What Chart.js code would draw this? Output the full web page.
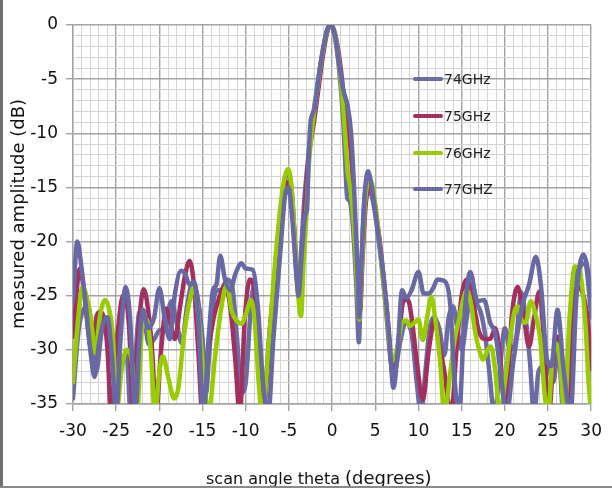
<!DOCTYPE html>
<html>
<head>
<meta charset="utf-8">
<script src="https://cdn.jsdelivr.net/npm/chart.js@4.4.1/dist/chart.umd.min.js"></script>
<style>
  html, body { margin: 0; padding: 0; background: #fff; }
  #wrap { position: relative; width: 612px; height: 488px; overflow: hidden; }
  #chart { position: absolute; left: 0; top: 0; }
  #edgeLeft { position: absolute; left: 0; top: 0; width: 3px; height: 488px; background: #707070; }
  #edgeBottom { position: absolute; left: 0; top: 486px; width: 612px; height: 2px; background: #8a8a8a; }
</style>
</head>
<body>
<div id="wrap">
  <canvas id="chart" width="612" height="488"></canvas>
  <div id="edgeLeft"></div>
  <div id="edgeBottom"></div>
</div>
<script>
// 系列名
const seriesNames = ['74GHz', '75GHz', '76GHz', '77GHZ'];

// [角度(deg), 振幅(dB)] - 画像から読み取り
const data74 = [
  [-30,-34.5],[-29.4,-28.5],[-28.8,-26.3],[-28.2,-26],[-27.8,-28.5],[-27.3,-32],[-26.8,-29],[-26.4,-27],
  [-25.9,-28],[-25.3,-30.6],[-24.8,-33],[-24.2,-31],[-23.8,-30.5],[-23.3,-36],[-22.8,-31],[-22.3,-26.5],
  [-21.8,-27],[-21.2,-29.5],[-20.6,-29],[-20,-28.2],[-19.4,-28],[-18.6,-25.5],[-18,-27.5],[-17.4,-29.4],
  [-16.8,-26],[-16.1,-23.7],[-15.5,-25.5],[-15,-29],[-14.6,-34],[-14.2,-30],[-13.7,-25.4],[-13.3,-24.5],
  [-12.8,-24.5],[-12.2,-23.5],[-11.6,-24],[-11,-29],[-10.5,-34],[-10,-33],[-9.4,-26],[-9,-24],
  [-8.6,-27],[-8,-36],[-7.3,-30],[-6.5,-22],[-5.8,-16.5],[-5.1,-13.4],[-4.6,-16],[-4.2,-22],
  [-3.9,-24.5],[-3.6,-21],[-3.2,-16],[-2.8,-12.5],[-2.3,-9],[-1.7,-5.5],[-1.1,-2.5],[-0.6,-0.5],
  [-0.2,0],[0.3,-1],[0.8,-4],[1.3,-9],[1.6,-14],[1.75,-16],[2,-16.2],[2.4,-18.5],
  [2.8,-24],[3.1,-29.3],[3.3,-25],[3.6,-18],[4,-14.5],[4.4,-15.2],[4.9,-17],[5.5,-20.5],
  [6.2,-26],[6.8,-31],[7.2,-32],[7.9,-29.2],[8.5,-27.5],[9.2,-28.5],[9.8,-33],[10.3,-36],
  [10.8,-32],[11.3,-28],[11.8,-27],[12.4,-28],[13,-30.5],[13.5,-27],[14,-26],[14.5,-28],
  [15,-30],[15.6,-27],[16.2,-24],[16.8,-25.8],[17.2,-26.5],[17.7,-28.5],[18.2,-32],[18.8,-36],
  [19.4,-32],[20,-28],[20.6,-30],[21.3,-29],[21.9,-24.7],[22.4,-27],[22.9,-31],[23.4,-36],
  [23.9,-32],[24.4,-31.5],[24.9,-31],[25.6,-33],[26.2,-30],[26.8,-36],[27.4,-30],[28,-24],
  [28.6,-22.5],[29.3,-22],[29.9,-26],[30,-27]
];

const data75 = [
  [-30,-28.8],[-29.2,-22.5],[-28.6,-25.5],[-28.2,-28.5],[-27.8,-30.3],[-27.3,-27],[-26.9,-26.5],[-26.4,-27.2],
  [-26,-30],[-25.6,-36],[-25,-30],[-24.4,-25.5],[-24,-24.9],[-23.5,-28],[-23,-36],[-22.5,-29],
  [-21.8,-24.4],[-21.2,-27],[-20.8,-30.5],[-20.4,-36],[-19.8,-30],[-19.2,-26.2],[-18.6,-28],[-18.2,-29],
  [-17.6,-26],[-17,-23],[-16.5,-21.8],[-16,-24],[-15.5,-30],[-15,-36],[-14.5,-31],[-13.7,-27],
  [-13,-25],[-12.4,-24],[-11.8,-26],[-11.2,-31],[-10.7,-36],[-10.1,-27],[-9.5,-23.5],[-9,-24.5],
  [-8.5,-30],[-8.1,-36],[-7.2,-28],[-6.4,-21],[-5.6,-15.5],[-5,-14.5],[-4.5,-17.5],[-4,-24],
  [-3.7,-25.7],[-3.4,-21],[-3,-15],[-2.6,-11.5],[-2.1,-9],[-1.6,-6],[-1,-2.5],[-0.5,-0.5],
  [-0.1,0],[0.4,-1],[1,-4],[1.6,-8.5],[2,-10.5],[2.3,-13],[2.7,-19],[3.1,-25],
  [3.25,-26.3],[3.5,-22],[3.9,-16.5],[4.45,-14.9],[5,-17],[5.6,-20.5],[6.3,-26],[7.1,-32.5],
  [7.7,-29],[8.3,-25.4],[8.8,-25.4],[9.2,-27],[9.8,-31],[10.5,-34.6],[11.2,-30],[11.9,-27.2],
  [12.4,-29.5],[13,-32],[13.8,-36],[14.4,-30],[15,-25],[15.6,-23.5],[16.3,-25.5],[17,-28.3],
  [17.7,-29],[18.3,-29],[18.9,-28],[19.5,-31],[20.1,-36],[20.8,-27],[21.5,-24.2],[22.2,-27],
  [22.8,-29.7],[23.4,-27],[24,-24.6],[24.5,-28.8],[25.1,-36],[25.7,-30],[26.1,-28.8],[26.6,-31],
  [27.3,-36],[27.9,-27],[28.5,-24.2],[29.3,-25.7],[29.8,-29],[30,-31.8]
];

const data76 = [
  [-30,-33],[-29.5,-28],[-28.9,-24.2],[-28.3,-25.5],[-27.8,-28],[-27.4,-30.3],[-26.9,-27],[-26.3,-25.4],
  [-25.8,-26.3],[-25.4,-28.5],[-24.9,-35.5],[-24.4,-32],[-23.8,-30],[-23.2,-31],[-22.6,-36],[-22,-28],
  [-21.5,-27.2],[-21,-30],[-20.5,-36],[-20,-32],[-19.6,-30.6],[-18.9,-32.8],[-18.3,-34.5],[-17.8,-33.5],
  [-17.2,-29],[-16.5,-25.5],[-16,-24.2],[-15.4,-27.5],[-14.9,-32],[-14.3,-36],[-13.6,-31],[-12.9,-26.5],
  [-12.2,-24],[-11.6,-26.5],[-11.05,-27.3],[-10.5,-27.6],[-9.9,-26.5],[-9.4,-25.4],[-9,-27],[-8.5,-33],
  [-8.1,-36],[-7.3,-29],[-6.5,-21],[-5.7,-15],[-5.07,-13.3],[-4.6,-16],[-4.1,-23],[-3.6,-26.9],
  [-3.3,-22],[-3,-18],[-2.7,-13],[-2.3,-9.5],[-1.8,-6.5],[-1.2,-3],[-0.6,-0.6],[-0.2,0],
  [0.4,-1.2],[1,-5],[1.5,-10],[1.8,-13.5],[2.2,-15.5],[2.6,-19.5],[3,-25.5],[3.15,-27.2],
  [3.4,-23],[3.8,-16.5],[4.4,-14.3],[5,-16.5],[5.6,-21],[6.3,-26.5],[7,-31],[7.5,-30],
  [8.1,-27.5],[8.6,-27.3],[9,-27.8],[9.5,-27.5],[10,-27.2],[10.5,-29.1],[11,-27],[11.5,-25.1],
  [12,-27.5],[12.5,-31],[13,-36],[13.7,-32],[14.2,-29],[14.7,-27.2],[15.2,-25.3],[15.6,-24.5],
  [16.1,-25.8],[16.6,-28.5],[17.1,-30.2],[17.5,-30.9],[18,-30],[18.4,-29.7],[18.9,-32],[19.4,-36],
  [20,-33],[20.6,-29],[21.1,-26.5],[21.5,-26],[21.9,-27.2],[22.4,-27.5],[23,-25.5],[23.6,-26.9],
  [24.1,-29],[24.6,-34],[25,-36],[25.5,-31],[25.9,-29.4],[26.4,-31],[26.9,-36],[27.5,-27],
  [28.1,-22.3],[28.6,-22.5],[29.3,-27.2],[29.7,-33],[30,-36]
];

const data77 = [
  [-30,-25.5],[-29.5,-20],[-29,-22.5],[-28.5,-26],[-28,-30],[-27.5,-32.5],[-27,-29.5],[-26.5,-27.5],
  [-26,-27],[-25.5,-30.5],[-25,-36],[-24.5,-29],[-23.9,-24.2],[-23.4,-27],[-22.8,-36],[-22.3,-29],
  [-21.9,-26.3],[-21.3,-28],[-20.6,-27],[-20,-24.3],[-19.4,-27],[-18.8,-29],[-18.3,-25.4],[-17.5,-22.7],
  [-17,-23],[-16.5,-24],[-16,-23.7],[-15.5,-27],[-14.9,-36],[-14.3,-29],[-13.8,-24.5],[-13.4,-24],
  [-12.95,-21.3],[-12.4,-23.5],[-11.8,-24.5],[-11.2,-23],[-10.5,-22],[-10,-22.5],[-9.2,-22.6],[-8.6,-26],
  [-8,-33],[-7.4,-36],[-6.8,-29],[-6,-21],[-5.4,-15.5],[-5.05,-15],[-4.6,-18],[-4.1,-23.5],
  [-3.9,-25],[-3.5,-21],[-3.1,-17.5],[-2.9,-17],[-2.75,-13],[-2.5,-9],[-2.3,-8.3],[-2,-7.6],
  [-1.5,-4.5],[-1,-2],[-0.5,-0.3],[-0.2,0],[0.3,-0.8],[0.8,-3.5],[1.3,-6],[1.8,-7.5],
  [2.2,-10],[2.6,-16],[3,-24],[3.15,-27],[3.4,-22],[3.8,-15.5],[4.15,-13.5],[4.6,-15],
  [5.2,-18.5],[6,-23.5],[6.6,-28.5],[7.1,-33.5],[7.6,-30],[8.1,-24.5],[8.6,-25.2],[9.2,-24.5],
  [10,-22.8],[10.6,-24.8],[11.2,-24.8],[11.7,-24.3],[12.2,-23.5],[13.1,-23.7],[13.7,-26],[14.1,-31.8],
  [14.7,-36],[15.3,-27.2],[16,-22.8],[16.8,-25.5],[17.6,-25.4],[18.3,-27.5],[18.9,-28.5],[19.5,-32],
  [20.2,-36],[21,-31],[22,-26],[22.8,-24],[23.6,-21.4],[24.2,-24.2],[24.9,-31],[25.4,-31.5],
  [26.1,-26.3],[26.8,-31.8],[27.6,-36],[28.3,-25],[29.1,-21.2],[29.9,-24.2],[30,-25]
];

// 軸の範囲と目盛り
const xMin = -30, xMax = 30;
const yMin = -35, yMax = 0;
const majorStep = 5;

// 色
const colors = ['#6b6ba6', '#a2305f', '#99cc00', '#6868a4'];

const FONT = '"DejaVu Sans", sans-serif';
const isMajor = (c) => c.tick && Math.round(c.tick.value) % majorStep === 0;

function toPoints(arr) {
  return arr.map(p => ({ x: p[0], y: p[1] }));
}

// 凡例と軸タイトル
const overlayPlugin = {
  id: 'overlay',
  afterDraw(chart) {
    const ctx = chart.ctx;
    ctx.save();
    // 凡例
    const rows = [79, 116, 153, 189];
    ctx.font = '14px ' + FONT;
    ctx.textBaseline = 'middle';
    ctx.textAlign = 'left';
    chart.data.datasets.forEach((ds, i) => {
      ctx.strokeStyle = ds.borderColor;
      ctx.lineWidth = 4;
      ctx.lineCap = 'round';
      ctx.beginPath();
      ctx.moveTo(415, rows[i]);
      ctx.lineTo(441, rows[i]);
      ctx.stroke();
      ctx.fillStyle = '#222';
      ctx.fillText(ds.label, 444, rows[i] + 1);
    });
    // Y軸タイトル
    ctx.save();
    ctx.translate(19, 214);
    ctx.rotate(-Math.PI / 2);
    ctx.textAlign = 'center';
    ctx.textBaseline = 'middle';
    ctx.font = '18px ' + FONT;
    ctx.fillStyle = '#111';
    ctx.fillText('measured amplitude (dB)', 0, 0);
    ctx.restore();
    // X軸タイトル
    ctx.textBaseline = 'alphabetic';
    ctx.textAlign = 'left';
    ctx.fillStyle = '#111';
    const part1 = 'scan angle theta ';
    ctx.font = '16px ' + FONT;
    const w1 = ctx.measureText(part1).width;
    ctx.fillText(part1, 206, 484);
    ctx.font = '18px ' + FONT;
    ctx.fillText('(degrees)', 206 + w1, 484);
    ctx.restore();
  }
};

const allData = [data74, data75, data76, data77];

const chart = new Chart(document.getElementById('chart').getContext('2d'), {
  type: 'line',
  data: {
    datasets: allData.map((d, i) => ({
      label: seriesNames[i],
      data: toPoints(d),
      borderColor: colors[i],
      backgroundColor: colors[i],
      borderWidth: 4.5,
      pointRadius: 0,
      cubicInterpolationMode: 'monotone',
      borderJoinStyle: 'round',
      borderCapStyle: 'round',
      order: 3 - i
    }))
  },
  options: {
    responsive: false,
    animation: false,
    layout: { padding: { top: 25, right: 11, left: 0, bottom: 0 } },
    scales: {
      x: {
        type: 'linear',
        min: xMin,
        max: xMax,
        afterFit: (s) => { s.height = 84; },
        ticks: {
          stepSize: 1,
          autoSkip: false,
          maxRotation: 0,
          padding: 10,
          color: '#111',
          font: { family: FONT, size: 17 },
          callback: (v) => (v % majorStep === 0 ? String(v) : '')
        },
        grid: {
          color: (c) => isMajor(c) ? '#a3a3a3' : '#d4d4d4',
          lineWidth: (c) => isMajor(c) ? 1.4 : 1,
          tickLength: 7,
          tickColor: (c) => isMajor(c) ? '#a3a3a3' : 'rgba(0,0,0,0)'
        },
        border: { color: '#a3a3a3', width: 1.4 }
      },
      y: {
        type: 'linear',
        min: yMin,
        max: yMax,
        afterFit: (s) => { s.width = 73; },
        ticks: {
          stepSize: 1,
          autoSkip: false,
          padding: 8,
          color: '#111',
          font: { family: FONT, size: 17 },
          callback: (v) => (v % majorStep === 0 ? String(v) : '')
        },
        grid: {
          color: (c) => isMajor(c) ? '#a3a3a3' : '#d4d4d4',
          lineWidth: (c) => isMajor(c) ? 1.4 : 1,
          tickLength: 7,
          tickColor: (c) => isMajor(c) ? '#a3a3a3' : 'rgba(0,0,0,0)'
        },
        border: { color: '#a3a3a3', width: 1.4 }
      }
    },
    plugins: {
      legend: { display: false },
      tooltip: { enabled: false }
    }
  },
  plugins: [overlayPlugin]
});
</script>
</body>
</html>
